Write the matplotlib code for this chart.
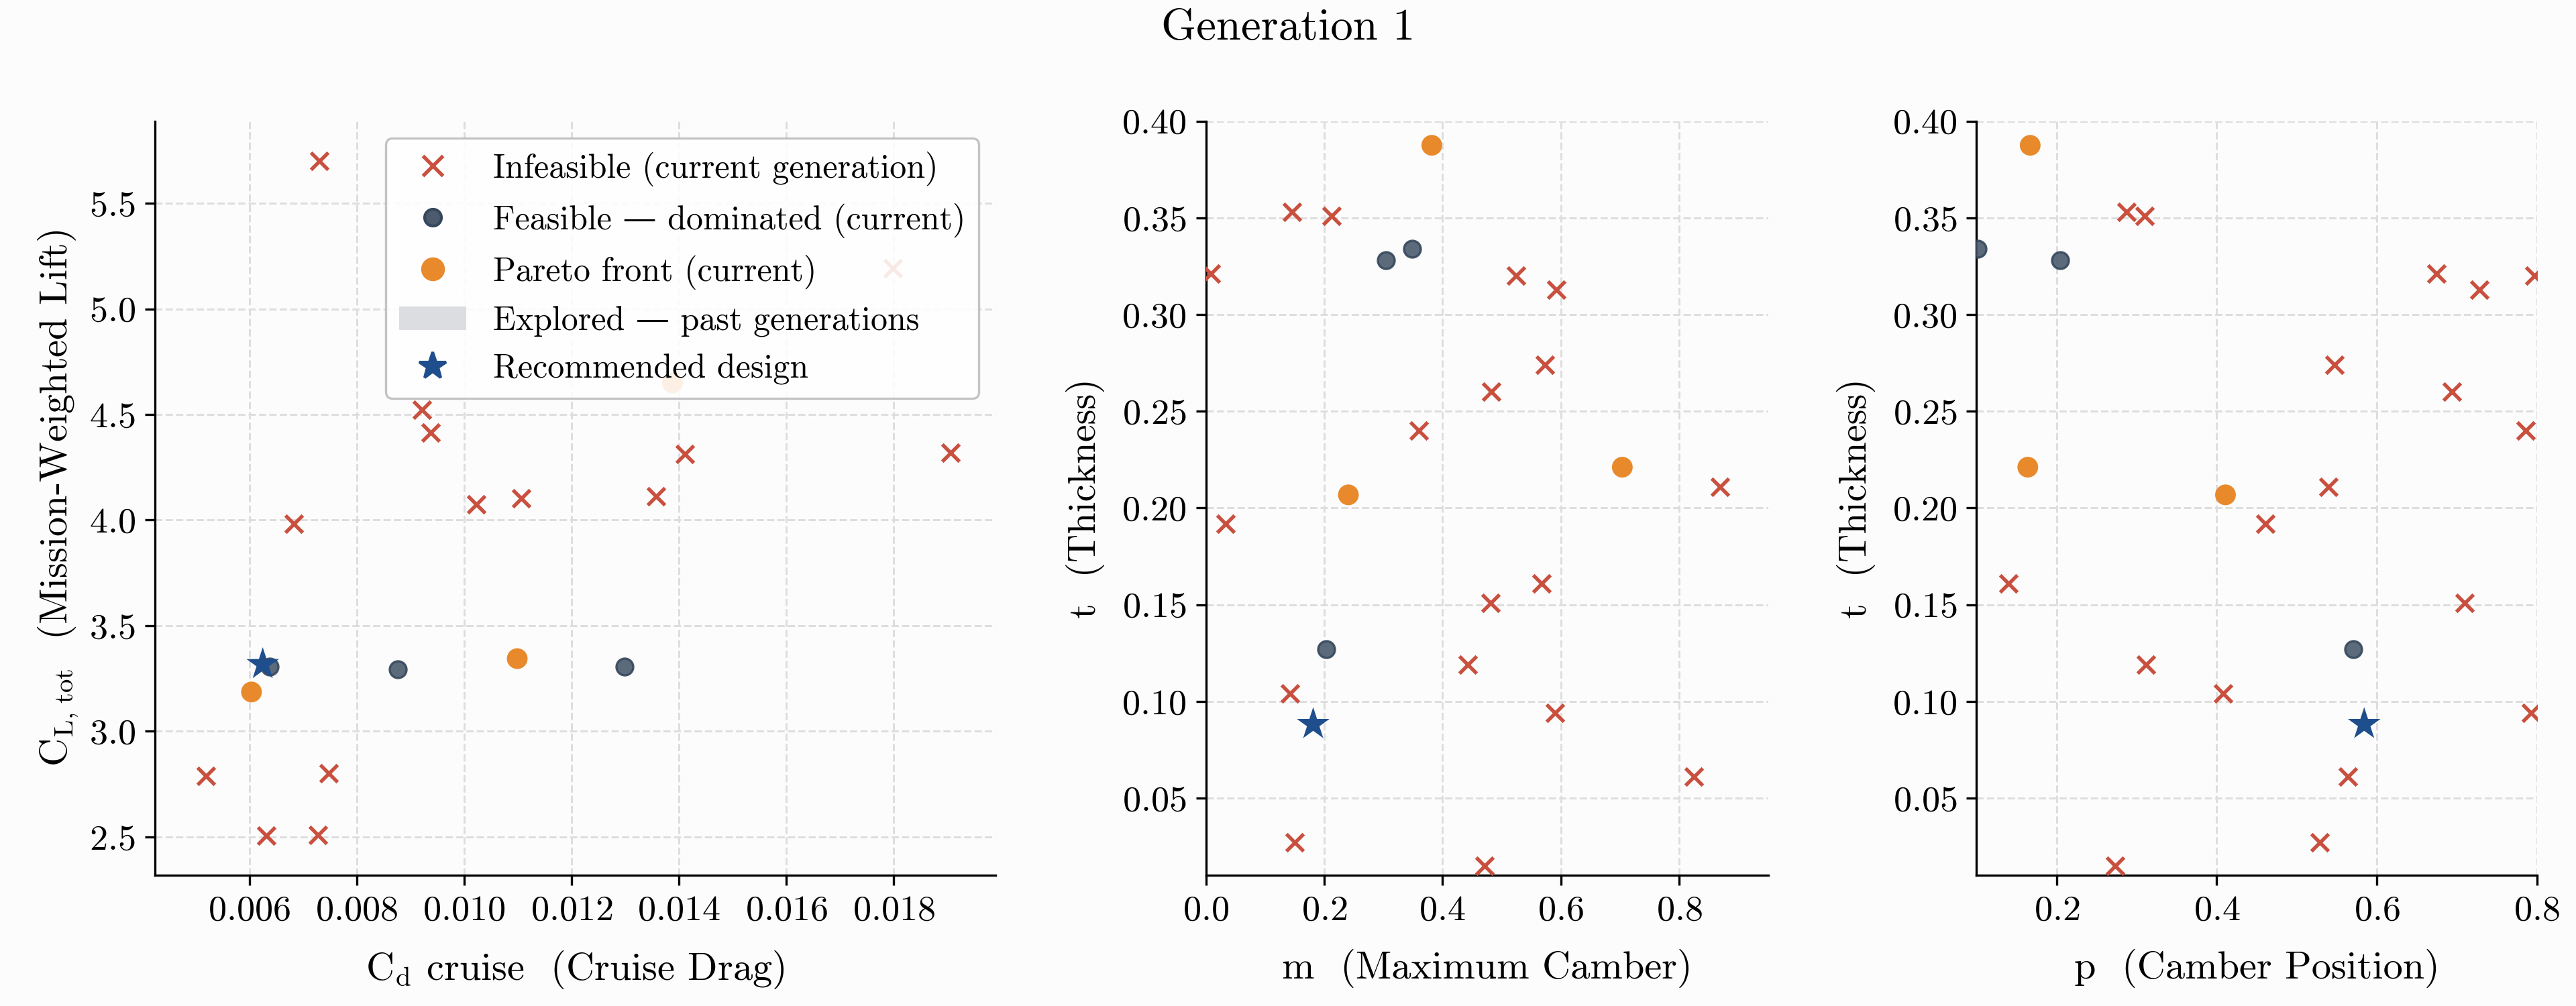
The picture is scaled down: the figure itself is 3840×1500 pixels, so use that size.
import numpy as np
import matplotlib
matplotlib.use("Agg")
import matplotlib.pyplot as plt
from matplotlib.lines import Line2D
from matplotlib.patches import Patch
from matplotlib.ticker import MultipleLocator

plt.rcParams["font.family"] = ["cmr10", "DejaVu Serif"]
plt.rcParams["mathtext.fontset"] = "cm"
plt.rcParams["axes.formatter.use_mathtext"] = True
plt.rcParams["axes.unicode_minus"] = False

nan = np.nan

# infeasible designs (current generation); NaN = objective not available
inf_cd = [0.00730, 0.00922, 0.00938, 0.00683, 0.01023, 0.01107, 0.01358, 0.01411, 0.00519,
          0.00748, 0.00632, 0.00728, 0.01906, 0.01799, nan, nan, nan, nan]
inf_cl = [5.700, 4.523, 4.413, 3.983, 4.076, 4.102, 4.114, 4.314, 2.787,
          2.801, 2.507, 2.510, 4.318, 5.191, nan, nan, nan, nan]
inf_m = [0.146, 0.213, 0.008, 0.524, 0.593, 0.573, 0.483, 0.360, 0.869,
         0.033, 0.567, 0.481, 0.443, 0.142, 0.590, 0.825, 0.150, 0.471]
inf_p = [0.287, 0.310, 0.675, 0.797, 0.728, 0.547, 0.694, 0.786, 0.540,
         0.461, 0.140, 0.710, 0.312, 0.408, 0.793, 0.564, 0.529, 0.273]
inf_t = [0.353, 0.351, 0.321, 0.320, 0.313, 0.274, 0.260, 0.240, 0.211,
         0.192, 0.161, 0.151, 0.119, 0.104, 0.094, 0.061, 0.027, 0.015]

# feasible but dominated
dom_cd = [0.00877, 0.01299, 0.00638]
dom_cl = [3.293, 3.305, 3.305]
dom_m = [0.305, 0.349, 0.204]
dom_p = [0.204, 0.101, 0.571]
dom_t = [0.328, 0.334, 0.127]

# pareto front
par_cd = [0.00604, 0.01099, 0.01388]
par_cl = [3.186, 3.344, 4.649]
par_m = [0.382, 0.241, 0.704]
par_p = [0.167, 0.411, 0.164]
par_t = [0.3875, 0.2068, 0.2211]

# recommended design
rec_cd, rec_cl = 0.00625, 3.317
rec_m, rec_p, rec_t = 0.1815, 0.5843, 0.0882

RED = "#c9503f"
GRAY = "#4b5b6d"
GRAY_EDGE = "#35475b"
ORANGE = "#e8892b"
BLUE = "#1f4e8c"
PAST = "#dcdde0"

fig = plt.figure(figsize=(12.8, 5.0), dpi=300, facecolor="#fcfcfc")
ax1 = fig.add_axes([0.0601, 0.1297, 0.3264, 0.7499])
ax2 = fig.add_axes([0.4681, 0.1297, 0.2184, 0.7499])
ax3 = fig.add_axes([0.7673, 0.1297, 0.2175, 0.7499])


def draw(ax, xi, yi, xd, yd, xp, yp, xr, yr):
    ax.set_facecolor("#fcfcfc")
    ax.scatter(xi, yi, marker="x", s=38, color=RED, linewidths=1.3, zorder=3)
    ax.scatter(xd, yd, marker="o", s=36, color=GRAY, edgecolors=GRAY_EDGE,
               linewidths=0.8, alpha=0.9, zorder=4)
    ax.scatter(xp, yp, marker="o", s=55, color=ORANGE, edgecolors="none", zorder=5)
    ax.scatter([xr], [yr], marker="*", s=150, color=BLUE, edgecolors="none", zorder=6)
    ax.grid(True, ls="--", lw=0.7, color="#dddddd")
    ax.set_axisbelow(True)
    for s in ["top", "right"]:
        ax.spines[s].set_visible(False)
    ax.tick_params(labelsize=13)


draw(ax1, inf_cd, inf_cl, dom_cd, dom_cl, par_cd, par_cl, rec_cd, rec_cl)
draw(ax2, inf_m, inf_t, dom_m, dom_t, par_m, par_t, rec_m, rec_t)
draw(ax3, inf_p, inf_t, dom_p, dom_t, par_p, par_t, rec_p, rec_t)

ax1.set_xlim(0.00424, 0.0199)
ax1.set_ylim(2.317, 5.889)
ax1.xaxis.set_major_locator(MultipleLocator(0.002))
ax1.yaxis.set_major_locator(MultipleLocator(0.5))
ax2.set_xlim(0.0, 0.951)
ax2.set_ylim(0.01, 0.40)
ax3.set_xlim(0.1, 0.8)
ax3.set_ylim(0.01, 0.40)
for ax in (ax2, ax3):
    ax.xaxis.set_major_locator(MultipleLocator(0.2))
    ax.yaxis.set_major_locator(MultipleLocator(0.05))

ax1.set_xlabel(r"C$_{\mathrm{d}}$ cruise  (Cruise Drag)", fontsize=14, labelpad=8)
ax1.set_ylabel(r"C$_{\mathrm{L,\,tot}}$  (Mission-Weighted Lift)", fontsize=14, labelpad=3)
ax2.set_xlabel("m  (Maximum Camber)", fontsize=14, labelpad=8)
ax2.set_ylabel("t  (Thickness)", fontsize=14, labelpad=6)
ax3.set_xlabel("p  (Camber Position)", fontsize=14, labelpad=8)
ax3.set_ylabel("t  (Thickness)", fontsize=14, labelpad=6)

handles = [
    Line2D([], [], marker="x", ls="none", color=RED, markersize=7, markeredgewidth=1.3),
    Line2D([], [], marker="o", ls="none", color=GRAY, markeredgecolor=GRAY_EDGE, markersize=6),
    Line2D([], [], marker="o", ls="none", color=ORANGE, markersize=7.5),
    Patch(facecolor=PAST, edgecolor="none"),
    Line2D([], [], marker="*", ls="none", color=BLUE, markersize=10),
]
labels = [
    "Infeasible (current generation)",
    "Feasible — dominated (current)",
    "Pareto front (current)",
    "Explored — past generations",
    "Recommended design",
]
leg = ax1.legend(handles, labels, loc="upper right", fontsize=12, framealpha=0.88,
                 edgecolor="#bbbbbb", fancybox=True)
leg.get_frame().set_linewidth(0.8)

fig.text(0.5, 0.9607, "Generation 1", ha="center", va="baseline", fontsize=16)

fig.savefig("out.png", dpi=300, facecolor=fig.get_facecolor())
